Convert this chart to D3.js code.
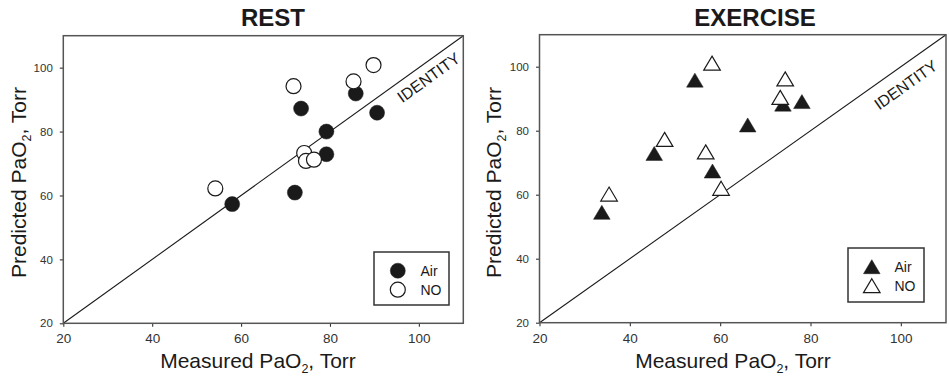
<!DOCTYPE html>
<html><head><meta charset="utf-8">
<script src="https://cdn.jsdelivr.net/npm/d3@7"></script>
<style>body{margin:0;background:#fff} svg{display:block} text{font-family:"Liberation Sans",Arial,sans-serif}</style>
</head><body><svg id="c" width="949" height="376"></svg>
<script>
// ---- data ----
const tickValues = [20, 40, 60, 80, 100];
const axisDomain = [20, 110];
const seriesNames = ["Air", "NO"];
const titles = ["REST", "EXERCISE"];
const xLabel = ["Measured PaO", "2", ", Torr"];
const yLabel = ["Predicted PaO", "2", ", Torr"];
const identityLabel = "IDENTITY";

const restAirX = [58.0, 72.1, 73.5, 79.2, 79.2, 85.8, 90.6];
const restAirY = [57.3, 60.9, 87.2, 80.0, 72.9, 91.9, 85.9];
const restNoX  = [54.2, 71.8, 74.2, 74.6, 76.4, 85.3, 89.8];
const restNoY  = [62.2, 94.2, 73.3, 70.8, 71.2, 95.7, 100.8];

const exAirX = [33.8, 45.4, 54.4, 58.3, 66.1, 73.9, 78.1];
const exAirY = [54.5, 72.9, 95.8, 67.4, 81.8, 88.3, 89.1];
const exNoX  = [35.4, 47.7, 56.8, 58.2, 60.2, 73.3, 74.4];
const exNoY  = [60.2, 77.3, 73.4, 101.1, 62.0, 90.4, 96.2];

// ---- layout ----
const panels = [
  {title: titles[0], shape: "circle", x0: 63.3, x1: 463.3, y0: 323.3, y1: 35.7,
   titleX: 273, ylabX: 26, xlabX: 258, legend: {x: 374, y: 252, w: 75, h: 53},
   idT: 100.4, idOff: 13.5,
   air: restAirX.map((v, i) => [v, restAirY[i]]), no: restNoX.map((v, i) => [v, restNoY[i]])},
  {title: titles[1], shape: "triangle", x0: 539.5, x1: 946, y0: 322.7, y1: 34.7,
   titleX: 755, ylabX: 501, xlabX: 733, legend: {x: 848, y: 248, w: 76, h: 54},
   idT: 98.8, idOff: 17.5,
   air: exAirX.map((v, i) => [v, exAirY[i]]), no: exNoX.map((v, i) => [v, exNoY[i]])}
];

const svg = d3.select("#c");
const ink = "#1a1a1a";
const triPath = "M0,-7L8.3,7L-8.3,7Z";

function marker(g, shape, filled, x, y) {
  if (shape === "circle") {
    g.append("circle").attr("cx", x).attr("cy", y).attr("r", 7.5)
      .attr("fill", filled ? ink : "#fff").attr("stroke", ink).attr("stroke-width", filled ? 0.5 : 1.2);
  } else {
    g.append("path").attr("d", triPath).attr("transform", `translate(${x},${y})`)
      .attr("fill", filled ? ink : "#fff").attr("stroke", ink).attr("stroke-width", filled ? 0.5 : 1.2)
      .attr("stroke-linejoin", "miter");
  }
}

function labelWithSub(sel, parts) {
  sel.append("tspan").text(parts[0]);
  sel.append("tspan").attr("font-size", 12.5).attr("dy", 5).text(parts[1]);
  sel.append("tspan").attr("dy", -5).text(parts[2]);
}

panels.forEach(p => {
  const x = d3.scaleLinear().domain(axisDomain).range([p.x0, p.x1]);
  const y = d3.scaleLinear().domain(axisDomain).range([p.y0, p.y1]);
  const g = svg.append("g");

  // title
  g.append("text").attr("x", p.titleX).attr("y", 26).attr("text-anchor", "middle")
    .attr("font-size", 24).attr("font-weight", "bold").attr("fill", ink).text(p.title);

  // identity line
  g.append("line").attr("x1", x(axisDomain[0])).attr("y1", y(axisDomain[0]))
    .attr("x2", x(axisDomain[1])).attr("y2", y(axisDomain[1]))
    .attr("stroke", ink).attr("stroke-width", 1.1);

  // identity label
  const dx = x(axisDomain[1]) - x(axisDomain[0]), dy = y(axisDomain[0]) - y(axisDomain[1]);
  const ang = Math.atan2(dy, dx);
  const len = Math.hypot(dx, dy);
  const nx = dy / len, ny = dx / len; // perpendicular towards lower-right
  const lx = x(p.idT) + nx * p.idOff, ly = y(p.idT) + ny * p.idOff;
  g.append("text").attr("transform", `translate(${lx},${ly}) rotate(${-ang * 180 / Math.PI})`)
    .attr("text-anchor", "middle").attr("dy", "0.36em").attr("font-size", 16)
    .attr("fill", ink).text(identityLabel);

  // axes
  const ax = g.append("g").attr("transform", `translate(0,${p.y0})`)
    .call(d3.axisBottom(x).tickValues(tickValues).tickSize(3.5).tickPadding(7).tickSizeOuter(0));
  ax.selectAll("text").attr("font-size", 13.5).attr("fill", "#333").attr("font-family", null);
  const ay = g.append("g").attr("transform", `translate(${p.x0},0)`)
    .call(d3.axisLeft(y).tickValues(tickValues).tickSize(3.5).tickPadding(7).tickSizeOuter(0));
  ay.selectAll("text").attr("font-size", 11.5).attr("fill", "#333").attr("font-family", null);
  [ax, ay].forEach(a => { a.select(".domain").remove(); a.selectAll("line").attr("stroke", "#333").attr("stroke-width", 1.1); });

  // frame
  g.append("rect").attr("x", p.x0).attr("y", p.y1).attr("width", p.x1 - p.x0).attr("height", p.y0 - p.y1)
    .attr("fill", "none").attr("stroke", "#555").attr("stroke-width", 1.5);

  // points: Air then NO on top
  const pts = g.append("g");
  p.air.forEach(d => marker(pts, p.shape, true, x(d[0]), y(d[1])));
  p.no.forEach(d => marker(pts, p.shape, false, x(d[0]), y(d[1])));

  // axis labels
  labelWithSub(g.append("text").attr("x", p.xlabX).attr("y", 368).attr("text-anchor", "middle")
    .attr("font-size", 21).attr("fill", ink), xLabel);
  labelWithSub(g.append("text").attr("transform", `translate(${p.ylabX},182.5) rotate(-90)`)
    .attr("text-anchor", "middle").attr("font-size", 21).attr("fill", ink), yLabel);

  // legend
  const L = p.legend;
  const lg = g.append("g");
  lg.append("rect").attr("x", L.x).attr("y", L.y).attr("width", L.w).attr("height", L.h)
    .attr("fill", "#fff").attr("stroke", "#333").attr("stroke-width", 1.5);
  seriesNames.forEach((name, i) => {
    const my = L.y + 18.7 + i * 19;
    marker(lg, p.shape, i === 0, L.x + 23.8, my);
    lg.append("text").attr("x", L.x + 46.5).attr("y", my).attr("dy", "0.36em")
      .attr("font-size", 14).attr("fill", ink).text(name);
  });
});
</script></body></html>
